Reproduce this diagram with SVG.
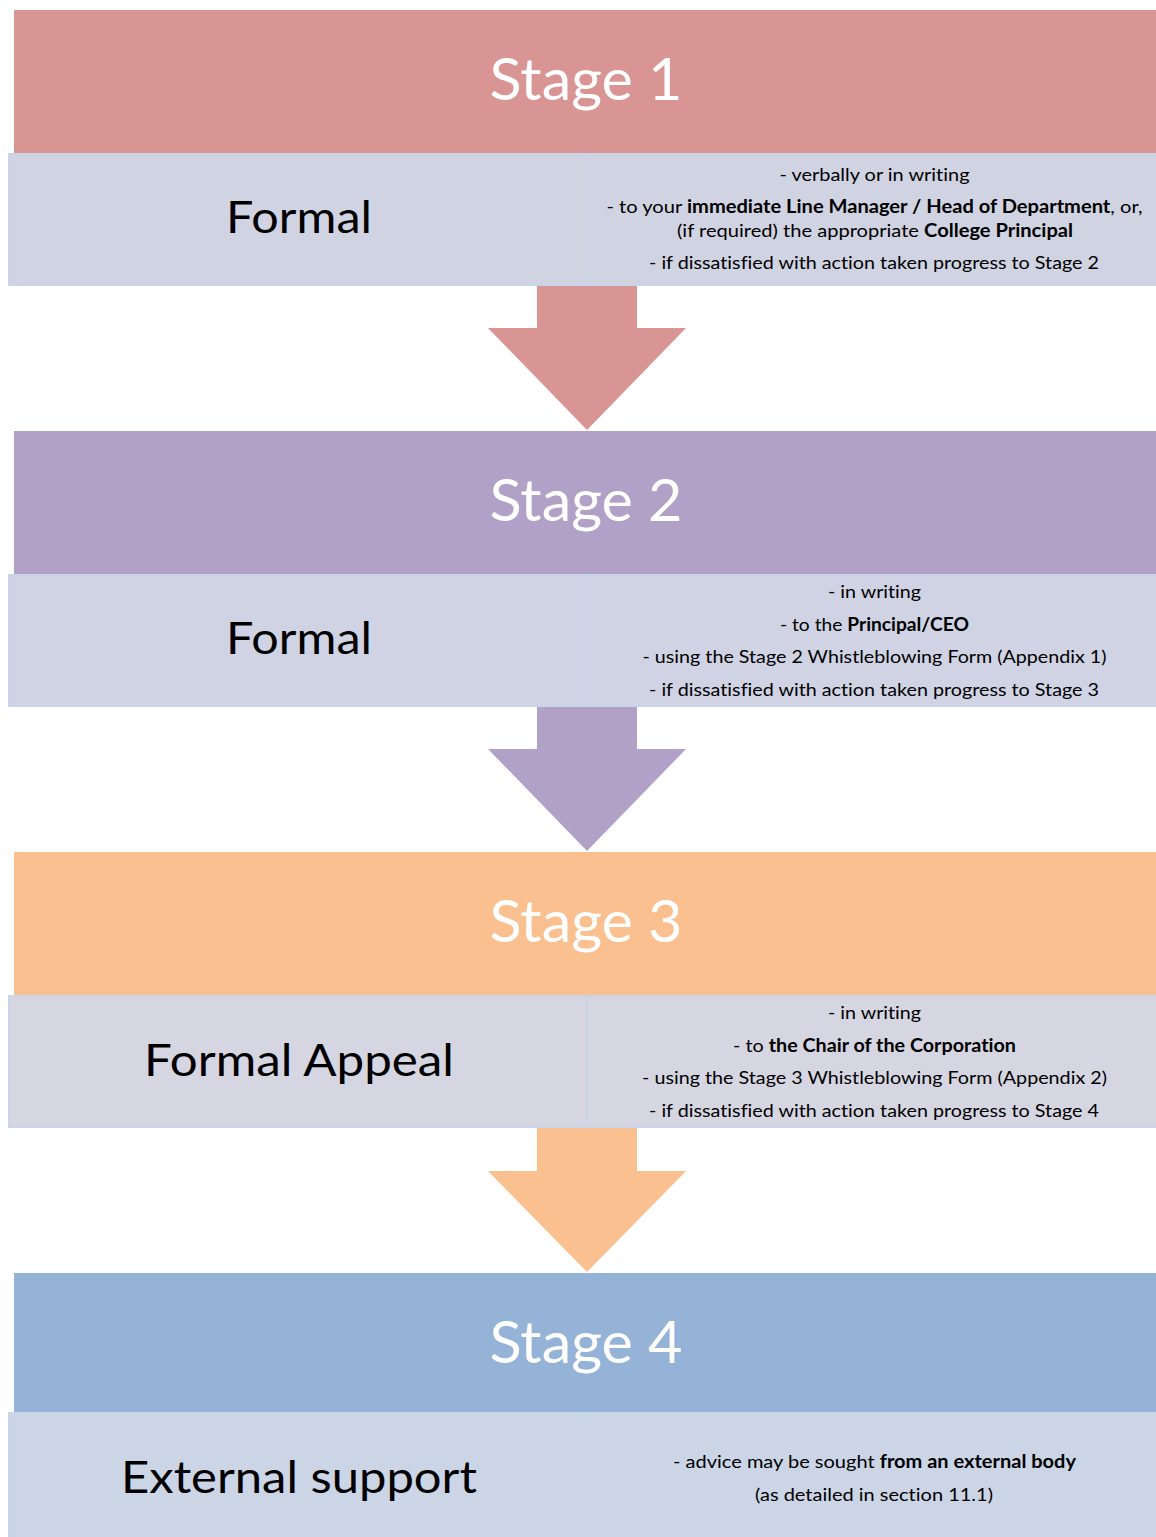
<svg xmlns="http://www.w3.org/2000/svg" width="1156" height="1537" viewBox="0 0 1156 1537">
<style>
  text { font-variant-ligatures: none; }
  .title { font-family: Lato, "Open Sans", "Liberation Sans", sans-serif; font-size: 58px; fill: #ffffff; text-anchor: middle; }
  .label { font-family: Lato, "Open Sans", "Liberation Sans", sans-serif; font-size: 44px; fill: #000000; text-anchor: middle; }
  .note { font-family: Lato, "Open Sans", "Liberation Sans", sans-serif; font-size: 18px; fill: #000000; text-anchor: middle; }
  .b { font-weight: bold; }
  .panel { stroke: #c8d4e8; stroke-width: 2; }
</style>
<rect width="1156" height="1537" fill="#ffffff"/>

<g id="stage1">
  <rect x="14" y="10" width="1150" height="143" fill="#d99594"/>
  <rect class="panel" x="9" y="154" width="578" height="131" fill="#d0d3e1"/>
  <rect class="panel" x="587" y="154" width="575" height="131" fill="#d0d3e1"/>
  <text class="title" x="586" y="100" textLength="193" lengthAdjust="spacingAndGlyphs">Stage 1</text>
  <text class="label" x="299" y="233" textLength="146" lengthAdjust="spacingAndGlyphs">Formal</text>
  <text class="note" x="874.5" y="181" textLength="190" lengthAdjust="spacingAndGlyphs">- verbally or in writing</text>
  <text class="note" x="874.5" y="213" textLength="536" lengthAdjust="spacingAndGlyphs">- to your <tspan class="b">immediate Line Manager / Head of Department</tspan>, or,</text>
  <text class="note" x="875" y="237" textLength="396" lengthAdjust="spacingAndGlyphs">(if required) the appropriate <tspan class="b">College Principal</tspan></text>
  <text class="note" x="874" y="269" textLength="450" lengthAdjust="spacingAndGlyphs">- if dissatisfied with action taken progress to Stage 2</text>
</g>

<g id="stage2">
  <rect x="14" y="431" width="1150" height="143" fill="#b2a1c7"/>
  <rect class="panel" x="9" y="575" width="578" height="131" fill="#cfd3e3"/>
  <rect class="panel" x="587" y="575" width="575" height="131" fill="#cfd3e3"/>
  <text class="title" x="586" y="521" textLength="193" lengthAdjust="spacingAndGlyphs">Stage 2</text>
  <text class="label" x="299" y="654" textLength="146" lengthAdjust="spacingAndGlyphs">Formal</text>
  <text class="note" x="874.5" y="598" textLength="93" lengthAdjust="spacingAndGlyphs">- in writing</text>
  <text class="note" x="874.5" y="630.5" textLength="189" lengthAdjust="spacingAndGlyphs">- to the <tspan class="b">Principal/CEO</tspan></text>
  <text class="note" x="874.5" y="663" textLength="464" lengthAdjust="spacingAndGlyphs">- using the Stage 2 Whistleblowing Form (Appendix 1)</text>
  <text class="note" x="874" y="695.5" textLength="450" lengthAdjust="spacingAndGlyphs">- if dissatisfied with action taken progress to Stage 3</text>
</g>

<g id="stage3">
  <rect x="14" y="852" width="1150" height="143" fill="#fac090"/>
  <rect class="panel" x="9" y="996" width="578" height="131" fill="#d5d6e1"/>
  <rect class="panel" x="587" y="996" width="575" height="131" fill="#d5d6e1"/>
  <text class="title" x="586" y="942" textLength="193" lengthAdjust="spacingAndGlyphs">Stage 3</text>
  <text class="label" x="299" y="1076" textLength="310" lengthAdjust="spacingAndGlyphs">Formal Appeal</text>
  <text class="note" x="874.5" y="1019" textLength="93" lengthAdjust="spacingAndGlyphs">- in writing</text>
  <text class="note" x="874.5" y="1051.5" textLength="283" lengthAdjust="spacingAndGlyphs">- to <tspan class="b">the Chair of the Corporation</tspan></text>
  <text class="note" x="874.5" y="1084" textLength="465" lengthAdjust="spacingAndGlyphs">- using the Stage 3 Whistleblowing Form (Appendix 2)</text>
  <text class="note" x="874" y="1116.5" textLength="450" lengthAdjust="spacingAndGlyphs">- if dissatisfied with action taken progress to Stage 4</text>
</g>

<g id="stage4">
  <rect x="14" y="1273" width="1150" height="140" fill="#95b3d7"/>
  <rect class="panel" x="9" y="1413" width="578" height="140" fill="#cbd5e6"/>
  <rect class="panel" x="587" y="1413" width="575" height="140" fill="#cbd5e6"/>
  <text class="title" x="586" y="1363" textLength="193" lengthAdjust="spacingAndGlyphs">Stage 4</text>
  <text class="label" x="299" y="1493" textLength="356" lengthAdjust="spacingAndGlyphs">External support</text>
  <text class="note" x="874.5" y="1468" textLength="403" lengthAdjust="spacingAndGlyphs">- advice may be sought <tspan class="b">from an external body</tspan></text>
  <text class="note" x="874" y="1500.5" textLength="238" lengthAdjust="spacingAndGlyphs">(as detailed in section 11.1)</text>
</g>

<g id="connectors">
  <polygon points="537,286 637,286 637,328 686,328 587,430 488,328 537,328" fill="#d99594"/>
  <polygon points="537,707 637,707 637,749 686,749 587,851 488,749 537,749" fill="#b2a1c7"/>
  <polygon points="537,1128 637,1128 637,1171 686,1171 587,1272 488,1171 537,1171" fill="#fac090"/>
</g>
</svg>
